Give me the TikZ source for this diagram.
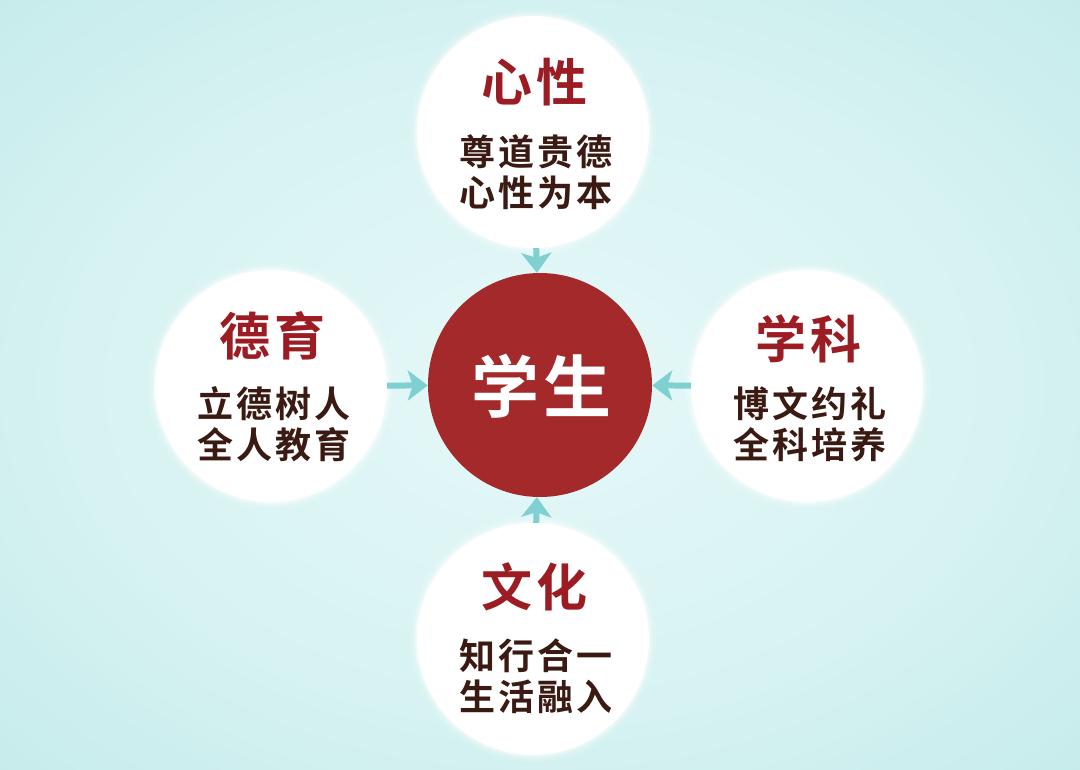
\documentclass[tikz,border=0pt]{standalone}
\usepackage{fontspec}
\newfontfamily\cjk{Noto Sans CJK SC}[BoldFont={* Bold}]
\usetikzlibrary{arrows.meta}
\definecolor{bgin}{HTML}{E6F8F8}
\definecolor{bgmid}{HTML}{D6F2F2}
\definecolor{bgout}{HTML}{B6E4E4}
\definecolor{hubred}{HTML}{A4292B}
\definecolor{titlered}{HTML}{9C1C23}
\definecolor{bodybrown}{HTML}{3A1A12}
\definecolor{teal}{HTML}{7FD0D0}
\pgfdeclareradialshading{bgshade}{\pgfpoint{0bp}{0bp}}{color(0bp)=(bgin); color(22bp)=(bgmid); color(50bp)=(bgout); color(72bp)=(bgout)}
\tikzset{
  petal/.style={circle, fill=white, minimum size=232pt, inner sep=0pt},
  hub/.style={circle, fill=hubred, minimum size=224pt, inner sep=0pt},
  ttl/.style={text=titlered, font=\cjk\bfseries\fontsize{51pt}{54pt}\selectfont\addfontfeatures{LetterSpace=8}},
  body/.style={text=bodybrown, align=center, font=\cjk\bfseries\fontsize{36pt}{41pt}\selectfont\addfontfeatures{LetterSpace=8}},
  hubtxt/.style={text=white, font=\cjk\bfseries\fontsize{68pt}{70pt}\selectfont\addfontfeatures{LetterSpace=6}},
  arr/.style={draw=teal, line width=6pt, -{Stealth[length=20pt,width=30pt,inset=5pt]}},
  halo/.style={fill=white},
}
\begin{document}
\begin{tikzpicture}[x=1pt,y=-1pt]
\useasboundingbox (0,0) rectangle (1080,770);
\shade[shading=bgshade] (0,0) rectangle (1080,770);
% soft halos
\foreach \p in {(533,132),(271,386),(807,386),(533,639)}{
  \fill[halo, opacity=0.12] \p circle (123pt);
  \fill[halo, opacity=0.2] \p circle (120pt);
  \fill[halo, opacity=0.35] \p circle (118pt);
}
% circles
\node[petal] (top) at (533,132) {};
\node[petal] (left) at (271,386) {};
\node[petal] (right) at (807,386) {};
\node[petal] (bottom) at (533,639) {};
\node[hub] (hub) at (540,385) {};
% arrows
\draw[arr] (top) -- (hub);
\draw[arr] (left) -- (hub);
\draw[arr] (right) -- (hub);
\draw[arr] (bottom) -- (hub);
% texts
\node[hubtxt] (hubt) at (542,386) {学生};
\node[ttl] (topt) at (535,82) {心性};
\node[body] (topb) at (536,172) {尊道贵德\\心性为本};
\node[ttl] (leftt) at (273,336) {德育};
\node[body] (leftb) at (274,424) {立德树人\\全人教育};
\node[ttl] (rightt) at (809,339) {学科};
\node[body] (rightb) at (810,424) {博文约礼\\全科培养};
\node[ttl] (bottomt) at (535,587) {文化};
\node[body] (bottomb) at (536,676) {知行合一\\生活融入};
\end{tikzpicture}
\end{document}
